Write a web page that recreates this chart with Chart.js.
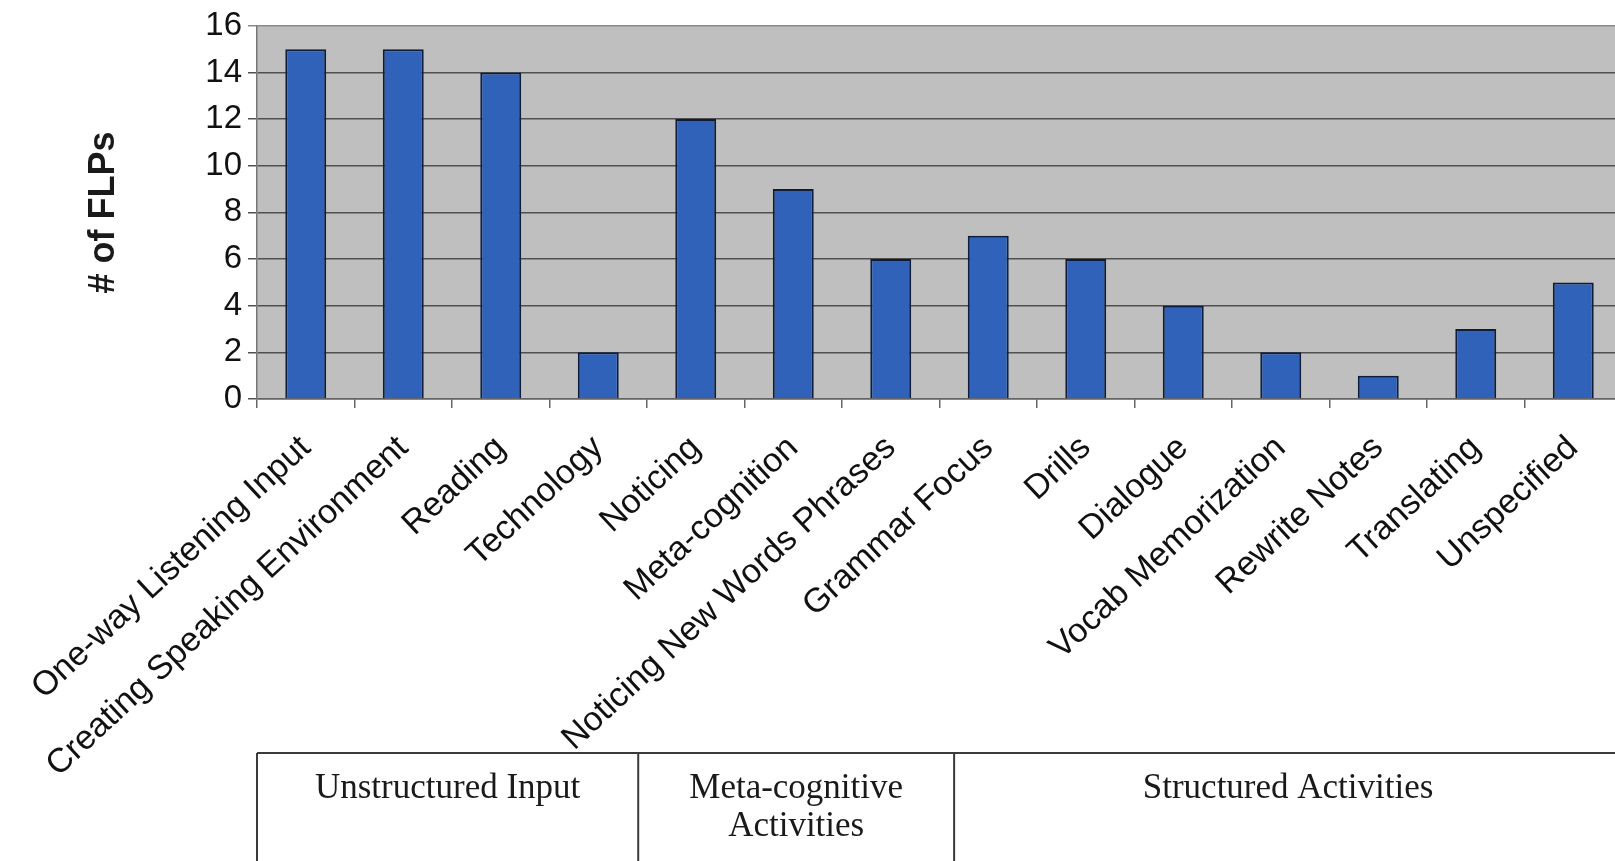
<!DOCTYPE html>
<html><head><meta charset="utf-8">
<script src="https://cdn.jsdelivr.net/npm/chart.js@4"></script>
<style>
html,body{margin:0;padding:0;background:#fff;overflow:hidden;}
#wrap{width:1640px;height:861px;position:relative;}
</style></head><body>
<div id="wrap"><canvas id="c"></canvas></div>
<script>
// ---- data ----
const categories = ["One-way Listening Input","Creating Speaking Environment","Reading","Technology","Noticing","Meta-cognition","Noticing New Words Phrases","Grammar Focus","Drills","Dialogue","Vocab Memorization","Rewrite Notes","Translating","Unspecified"];
const flpCounts = [15,15,14,2,12,9,6,7,6,4,2,1,3,5];
const yTickValues = [0,2,4,6,8,10,12,14,16];
const yAxisTitle = "# of FLPs";
const groupNames = [["Unstructured Input"],["Meta-cognitive","Activities"],["Structured Activities"]];
const groupBounds = [-0.5, 3.41, 6.65, 13.5];

// ---- plugins ----
const plotBg = {
  id:'plotBg',
  beforeDraw(chart){
    const {ctx, chartArea:a} = chart;
    ctx.save(); ctx.fillStyle='#bfbfbf';
    ctx.fillRect(a.left, a.top, a.right-a.left, a.bottom-a.top);
    ctx.restore();
  }
};
const groupBox = {
  id:'groupBox',
  afterDraw(chart){
    const {ctx, chartArea:a, scales:{x}} = chart;
    const top = a.bottom + 354;
    const bottom = chart.height + 20;
    const xs = groupBounds.map(b => x.getPixelForValue(b));
    ctx.save();
    ctx.strokeStyle='#3a3a3a'; ctx.lineWidth=2;
    ctx.beginPath();
    ctx.moveTo(xs[0], top); ctx.lineTo(xs[xs.length-1]+30, top);
    for (let i=0;i<xs.length-1;i++){ ctx.moveTo(xs[i], top); ctx.lineTo(xs[i], bottom); }
    ctx.stroke();
    ctx.fillStyle='#1a1a1a';
    ctx.font='35px "Liberation Serif", "Times New Roman", serif';
    ctx.textAlign='center'; ctx.textBaseline='middle';
    groupNames.forEach((lines,i)=>{
      const cx=(xs[i]+xs[i+1])/2;
      lines.forEach((l,j)=>ctx.fillText(l, cx, top+36+j*38));
    });
    ctx.restore();
  }
};

new Chart(document.getElementById('c'), {
  type:'bar',
  data:{ labels:categories, datasets:[{ data:flpCounts, backgroundColor:'#2f62b8', borderColor:'#0f1d3a', borderWidth:2, barPercentage:0.42, categoryPercentage:1 }]},
  plugins:[plotBg, groupBox],
  options:{
    responsive:true, maintainAspectRatio:false, animation:false,
    layout:{ padding:{ top:23, right:18, left:0, bottom:0 } },
    plugins:{ legend:{display:false}, tooltip:{enabled:false} },
    scales:{
      x:{
        grid:{ display:true, drawOnChartArea:false, drawTicks:true, tickLength:9, color:'#666', lineWidth:1.5 },
        border:{ display:true, color:'#666', width:1.5 },
        ticks:{ autoSkip:false, minRotation:43, maxRotation:43, color:'#111', padding:20,
          font:{ family:'"Liberation Sans", Arial, sans-serif', size:34 } },
        afterFit(axis){ axis.height = 462; }
      },
      y:{
        min:0, max:16,
        afterBuildTicks(axis){ axis.ticks = yTickValues.map(v=>({value:v})); },
        grid:{ color:(c)=> c.tick && c.tick.value===16 ? '#8a8a8a' : '#505050', lineWidth:1.5, tickLength:9 },
        border:{ display:true, color:'#777', width:1.5 },
        ticks:{ color:'#111', padding:6, font:{ family:'"Liberation Sans", Arial, sans-serif', size:33 } },
        title:{ display:true, text:yAxisTitle, color:'#1a1a1a', padding:{top:82, bottom:0},
          font:{ family:'"Liberation Sans", Arial, sans-serif', size:36, weight:'bold' } },
        afterFit(axis){ axis.width = 257; }
      }
    }
  }
});
</script>
</body></html>
